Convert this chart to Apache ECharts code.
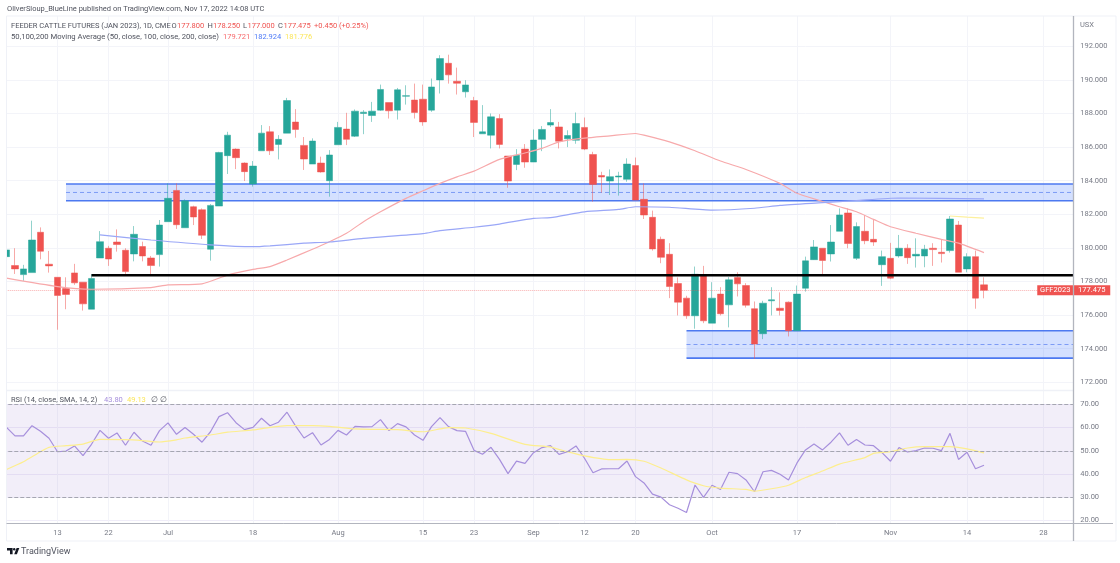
<!DOCTYPE html>
<html>
<head>
<meta charset="utf-8">
<title>Feeder Cattle Futures</title>
<style>
  html, body { margin: 0; padding: 0; background: #fff; }
  #echarts { width: 1120px; height: 563px; }
</style>
<script src="https://cdn.jsdelivr.net/npm/echarts@6/dist/echarts.min.js"></script>
</head>
<body>
<div id="echarts"></div>
<script>
// trading days, the last ones are the empty space right of the last bar
const categories = [
  'Jun 03','Jun 06','Jun 07','Jun 08','Jun 09','Jun 10','Jun 13','Jun 14','Jun 15','Jun 16','Jun 17','Jun 21','Jun 22','Jun 23','Jun 24','Jun 27','Jun 28','Jun 29','Jun 30',
  'Jul 01','Jul 05','Jul 06','Jul 07','Jul 08','Jul 11','Jul 12','Jul 13','Jul 14','Jul 15','Jul 18','Jul 19','Jul 20','Jul 21','Jul 22','Jul 25','Jul 26','Jul 27','Jul 28','Jul 29',
  'Aug 01','Aug 02','Aug 03','Aug 04','Aug 05','Aug 08','Aug 09','Aug 10','Aug 11','Aug 12','Aug 15','Aug 16','Aug 17','Aug 18','Aug 19','Aug 22','Aug 23','Aug 24','Aug 25','Aug 26','Aug 29','Aug 30','Aug 31',
  'Sep 01','Sep 02','Sep 06','Sep 07','Sep 08','Sep 09','Sep 12','Sep 13','Sep 14','Sep 15','Sep 16','Sep 19','Sep 20','Sep 21','Sep 22','Sep 23','Sep 26','Sep 27','Sep 28','Sep 29','Sep 30',
  'Oct 03','Oct 04','Oct 05','Oct 06','Oct 07','Oct 10','Oct 11','Oct 12','Oct 13','Oct 14','Oct 17','Oct 18','Oct 19','Oct 20','Oct 21','Oct 24','Oct 25','Oct 26','Oct 27','Oct 28','Oct 31',
  'Nov 01','Nov 02','Nov 03','Nov 04','Nov 07','Nov 08','Nov 09','Nov 10','Nov 11','Nov 14','Nov 15','Nov 16','Nov 17','Nov 18','Nov 21','Nov 22','Nov 23','Nov 25','Nov 28','Nov 29','Nov 30',
  'Dec 01'
];
const tickLabels = {
  'Jun 13': '13', 'Jun 22': '22', 'Jul 01': 'Jul', 'Jul 18': '18', 'Aug 01': 'Aug', 'Aug 15': '15', 'Aug 23': '23',
  'Sep 01': 'Sep', 'Sep 12': '12', 'Sep 20': '20', 'Oct 03': 'Oct', 'Oct 17': '17', 'Nov 01': 'Nov', 'Nov 14': '14', 'Nov 28': '28'
};

const opens = [
  179.48,178.95,178.41,178.53,180.93,179.03,178.25,177.58,178.51,177.96,
  176.35,179.40,179.98,180.35,179.86,179.64,180.08,179.40,179.60,181.56,
  183.42,181.20,182.45,182.27,179.92,182.49,185.49,185.88,185.05,183.80,
  185.78,186.91,186.16,186.83,187.49,186.10,184.99,185.05,184.00,186.14,
  187.07,186.65,188.00,187.88,188.20,188.65,188.20,189.03,188.80,188.85,
  188.20,190.00,190.99,189.92,189.29,188.77,186.79,186.71,187.70,185.47,
  184.97,185.88,185.11,186.46,187.31,187.20,186.49,186.41,187.17,185.56,
  184.31,183.98,184.22,184.08,184.90,182.89,181.82,180.51,179.62,177.88,
  177.01,175.96,178.32,175.52,177.25,176.61,178.24,177.76,176.38,174.89,
  176.85,176.41,176.77,175.07,177.60,179.30,179.98,179.64,180.99,182.08,
  179.38,180.99,180.51,179.00,179.38,179.52,179.98,179.52,179.52,179.98,
  179.74,179.84,181.36,178.75,179.48,177.80
];
const closes = [
  179.88,178.75,178.75,180.47,179.80,178.93,177.17,177.23,177.92,176.67,
  178.18,180.37,179.34,180.20,178.59,180.81,179.52,178.95,181.36,182.95,
  181.38,182.81,181.84,180.75,182.53,185.68,186.71,185.37,184.54,184.87,
  186.83,185.78,186.46,188.77,187.05,185.29,186.36,184.52,185.53,187.17,
  186.46,188.14,188.08,188.14,189.43,188.16,189.41,189.06,188.06,187.50,
  189.58,191.27,190.30,189.80,189.70,187.47,186.91,187.80,186.16,183.98,
  185.51,185.11,186.42,187.05,187.46,186.35,186.69,187.40,185.88,183.78,
  184.22,184.24,184.28,184.99,182.85,181.96,179.94,179.44,177.70,176.77,
  175.96,178.43,175.66,177.01,176.08,178.10,177.86,176.59,174.28,176.71,
  176.91,176.28,175.07,177.25,179.23,180.06,179.25,180.35,181.96,180.26,
  181.27,180.43,180.35,179.48,178.20,179.98,179.42,179.62,179.92,179.90,
  179.66,181.72,178.55,179.48,177.01,177.475
];
const lows = [
  178.69,178.45,178.04,178.53,179.32,178.53,175.13,176.35,177.80,176.27,
  176.35,179.40,178.93,179.78,178.45,179.20,179.20,178.39,178.89,181.56,
  181.13,181.20,181.36,180.53,179.24,182.49,184.40,184.69,183.98,183.65,
  185.78,185.53,185.27,186.83,186.56,184.64,184.99,184.48,183.05,186.14,
  186.12,186.60,186.77,187.50,188.16,187.70,187.64,188.53,187.70,187.27,
  188.10,189.19,189.78,189.13,188.95,186.60,186.79,185.92,185.92,183.58,
  184.63,184.77,185.11,185.76,187.20,185.92,186.00,186.20,185.82,182.75,
  183.29,183.15,183.11,183.94,182.85,181.72,179.84,179.09,177.01,175.98,
  175.78,175.19,175.52,175.52,175.98,175.27,177.11,176.45,173.39,174.57,
  175.98,175.98,174.73,175.07,177.40,179.28,178.33,179.19,180.99,179.98,
  179.28,180.22,180.12,177.74,178.14,179.42,179.05,178.83,178.85,178.93,
  179.13,179.72,178.55,178.55,176.38,177.00
];
const highs = [
  180.23,179.98,178.99,181.62,181.22,179.82,178.25,178.25,179.05,177.96,
  178.43,181.00,180.12,181.10,179.98,181.30,180.37,179.52,181.66,183.84,
  183.84,182.89,182.51,182.35,182.61,185.72,186.91,185.92,185.09,185.17,
  187.31,187.25,186.71,188.93,188.26,186.60,186.52,185.43,185.82,187.50,
  188.04,188.24,188.20,188.69,189.72,188.65,189.52,189.68,189.78,189.72,
  190.08,191.47,191.50,190.73,189.98,188.99,188.50,188.00,187.96,185.47,
  185.88,186.18,187.05,187.25,188.26,187.50,187.00,188.06,187.76,185.72,
  184.53,184.67,184.53,185.33,185.38,183.84,182.22,180.67,180.28,178.24,
  177.15,178.89,178.93,177.96,177.66,178.26,178.55,177.90,176.81,176.85,
  177.66,177.35,176.81,177.76,179.48,180.47,179.98,181.36,182.35,182.35,
  181.52,181.96,181.66,179.84,180.30,180.77,180.22,180.57,180.18,180.28,
  180.53,181.90,181.60,179.68,179.84,178.25
];

// moving averages, [bar number, value]
const ma50 = [
  [0,178.20],[6,177.70],[10,177.54],[17,177.64],[19,177.80],[23,177.86],[26,178.38],[29,178.72],[31,178.89],
  [33,179.28],[36,179.92],[38,180.37],[40,180.87],[42,181.56],[44,182.15],[47,182.95],[49,183.40],[51,183.84],
  [53,184.23],[55,184.57],[58,185.27],[61,185.65],[63,185.92],[65,186.31],[68,186.53],[71,186.67],[74,186.81],
  [75,186.71],[78,186.31],[81,185.78],[84,185.17],[87,184.67],[91,183.84],[93,183.25],[96,182.76],[98,182.45],
  [100,182.15],[102,181.70],[104,181.26],[107,180.87],[110,180.51],[112,180.28],[115,179.72]
];
const ma100 = [
  [11,180.77],[17,180.47],[24,180.18],[29,180.07],[31,180.12],[35,180.28],[38,180.35],[42,180.57],[49,180.85],
  [51,181.03],[55,181.23],[58,181.42],[62,181.76],[64,181.80],[68,182.15],[72,182.29],[74,182.45],[78,182.42],
  [83,182.25],[88,182.36],[91,182.53],[96,182.69],[100,182.82],[105,182.97],[115,182.92]
];
const ma200 = [[111,181.90],[113,181.83],[115,181.776]];

const rsiValues = [
  60.1,56.4,56.4,60.8,58.4,55.4,49.6,49.9,52.1,47.9,
  52.8,58.8,55.4,57.7,52.4,58.0,54.2,52.4,58.7,62.0,
  57.1,60.0,57.1,53.7,58.2,64.7,66.4,62.1,59.1,60.1,
  64.0,60.8,62.3,66.6,60.7,55.5,57.8,52.5,54.9,58.8,
  56.8,60.5,60.3,60.4,63.4,58.7,61.7,60.3,56.8,54.5,
  60.4,64.3,60.4,58.7,58.4,50.2,48.5,51.5,46.3,40.2,
  45.6,44.6,49.2,51.4,52.2,48.5,49.6,52.1,46.8,40.6,
  42.2,42.3,42.3,45.6,38.9,36.2,31.4,30.1,26.8,25.3,
  23.5,35.3,30.0,35.2,33.4,40.8,40.2,37.5,32.4,41.0,
  41.6,39.9,37.5,44.8,50.4,52.9,50.4,53.7,57.7,52.4,
  54.9,52.5,52.2,49.2,45.5,51.4,49.5,50.1,51.2,51.1,
  50.1,57.5,46.3,49.4,42.3,43.8
];
const rsiMa = [
  [0,42.0],[2,45.3],[4,49.6],[5,51.5],[7,52.2],[9,52.9],[11,54.9],[14,54.8],[16,54.4],[18,53.8],[20,54.7],[21,55.5],
  [24,56.8],[26,58.0],[29,59.0],[31,60.1],[33,60.8],[36,60.8],[38,60.5],[41,59.4],[43,59.2],[46,59.1],[49,58.2],
  [51,59.4],[52,60.0],[54,59.8],[57,57.5],[61,52.8],[64,51.6],[66,49.6],[68,47.8],[71,46.2],[73,46.3],[75,45.5],
  [77,42.6],[80,37.5],[82,35.0],[84,34.0],[87,33.4],[88,32.7],[90,33.7],[92,35.2],[94,38.5],[96,41.3],[98,44.3],
  [101,47.1],[102,48.9],[104,49.6],[106,51.2],[108,51.8],[111,51.8],[113,50.8],[115,49.13]
];

// drawn boxes: first bar, top, middle, bottom
const zones = [[7,183.80,183.30,182.81],[80,175.07,174.25,173.44]];
// drawn black level: first bar, price
const levels = [[10,178.37]];
const lastClose = 177.475;
const symbolName = 'GFF2023';

const UP = '#26a69a', DOWN = '#ef5350', GRIDLINE = '#f3f4f9', AXIS = '#b2b5be', TICK = '#787b86';
const FONT = 'Roboto';
const SIZE = 7.5;

let isTick = (index, value) => value in tickLabels;

function zoneItem(params, api) {
  let c = params.coordSys;
  let right = c.x + c.width;
  let left = api.coord([api.value(0), api.value(1)])[0];
  let top = api.coord([api.value(0), api.value(1)])[1];
  let mid = api.coord([api.value(0), api.value(2)])[1];
  let bottom = api.coord([api.value(0), api.value(3)])[1];
  let edge = { stroke: '#4d79f0', lineWidth: 1.6 };
  return {
    type: 'group',
    children: [
      { type: 'rect', shape: { x: left, y: top, width: right - left, height: bottom - top }, style: { fill: 'rgba(41,98,255,0.2)' } },
      { type: 'line', shape: { x1: left, y1: top, x2: right, y2: top }, style: edge },
      { type: 'line', shape: { x1: left, y1: bottom, x2: right, y2: bottom }, style: edge },
      { type: 'line', shape: { x1: left, y1: mid, x2: right, y2: mid }, style: { stroke: '#7d9bf5', lineWidth: 1, lineDash: [4, 3] } }
    ]
  };
}

function levelItem(params, api) {
  let c = params.coordSys;
  let p = api.coord([api.value(0), api.value(1)]);
  return { type: 'line', shape: { x1: p[0], y1: p[1], x2: c.x + c.width, y2: p[1] }, style: { stroke: '#000', lineWidth: 2.4 } };
}

function lastPriceItem(params, api) {
  let c = params.coordSys;
  let right = c.x + c.width;
  let y = api.coord([0, api.value(1)])[1];
  let box = (x, w, text) => ([
    { type: 'rect', shape: { x: x, y: y - 5, width: w, height: 10 }, style: { fill: DOWN } },
    { type: 'text', x: x + w / 2, y: y, style: { text: text, fill: '#fff', font: SIZE + 'px ' + FONT, align: 'center', verticalAlign: 'middle' } }
  ]);
  return { type: 'group', children: box(right - 36, 36, symbolName).concat(box(right, 37, lastClose.toFixed(3))) };
}

function txt(x, y, text, color, extra) {
  return { type: 'text', z: 101, x: x, y: y, silent: true,
    style: Object.assign({ text: text, fill: color, font: SIZE + 'px ' + FONT, verticalAlign: 'middle' }, extra) };
}
function rule(x1, y1, x2, y2, color, width) {
  return { type: 'line', z: 100, silent: true, shape: { x1, y1, x2, y2 }, style: { stroke: color, lineWidth: width } };
}

let Charts = echarts.init(document.querySelector('#echarts'));
Charts.setOption({
  animation: false,
  backgroundColor: '#fff',
  grid: [
    { left: 2.25, width: 1071, top: 16, height: 507 },
    { left: 2.25, width: 1071, top: 46.3, height: 336 },
    { left: 2.25, width: 1071, top: 404.3, height: 116.3 }
  ],
  xAxis: [
    {
      gridIndex: 0, type: 'category', data: categories,
      axisLine: { show: false }, axisTick: { show: false },
      axisLabel: {
        interval: isTick, margin: 6, color: TICK, fontFamily: FONT, fontSize: SIZE,
        formatter: v => tickLabels[v],
        hideOverlap: false
      },
      splitLine: { show: true, interval: isTick, alignWithLabel: true, lineStyle: { color: GRIDLINE, width: 1 } }
    },
    { gridIndex: 1, type: 'category', data: categories, show: false },
    { gridIndex: 2, type: 'category', data: categories, show: false }
  ],
  yAxis: [
    { gridIndex: 0, type: 'value', min: 0, max: 1, show: false },
    {
      gridIndex: 1, type: 'value', position: 'right', min: 172, max: 192, interval: 2,
      axisLine: { show: false }, axisTick: { show: false },
      axisLabel: { margin: 7, color: TICK, fontFamily: FONT, fontSize: SIZE, formatter: v => v.toFixed(3) },
      splitLine: { lineStyle: { color: GRIDLINE, width: 1 } }
    },
    {
      gridIndex: 2, type: 'value', position: 'right', min: 20, max: 70, interval: 10,
      axisLine: { show: false }, axisTick: { show: false },
      axisLabel: { margin: 7, color: TICK, fontFamily: FONT, fontSize: SIZE, formatter: v => v.toFixed(2) },
      splitLine: { lineStyle: { color: '#f0edf9', width: 1 } }
    }
  ],
  series: [
    { type: 'custom', name: 'zones', xAxisIndex: 1, yAxisIndex: 1, z: 1, silent: true, data: zones,
      encode: { x: 0, y: [1, 2, 3] }, renderItem: zoneItem },
    {
      type: 'candlestick', name: 'GFF2023', xAxisIndex: 1, yAxisIndex: 1, z: 3, barWidth: 7,
      data: opens.map((o, i) => [o, closes[i], lows[i], highs[i]]),
      itemStyle: { color: UP, color0: DOWN, borderColor: 'rgba(38,166,154,0.5)', borderColor0: 'rgba(239,83,80,0.5)', borderWidth: 1 },
      markLine: {
        silent: true, symbol: 'none', animation: false, label: { show: false },
        lineStyle: { type: 'dotted', color: 'rgba(239,83,80,0.45)', width: 1 },
        data: [{ yAxis: lastClose }]
      }
    },
    { type: 'line', name: 'MA 50', xAxisIndex: 1, yAxisIndex: 1, z: 4, data: ma50, showSymbol: false, smooth: 0.2,
      lineStyle: { color: '#f7a9ab', width: 1.2 } },
    { type: 'line', name: 'MA 100', xAxisIndex: 1, yAxisIndex: 1, z: 4, data: ma100, showSymbol: false, smooth: 0.2,
      lineStyle: { color: '#9aa7f7', width: 1.2 } },
    { type: 'line', name: 'MA 200', xAxisIndex: 1, yAxisIndex: 1, z: 4, data: ma200, showSymbol: false,
      lineStyle: { color: '#fdf09c', width: 1.2 } },
    { type: 'custom', name: 'level', xAxisIndex: 1, yAxisIndex: 1, z: 5, silent: true, data: levels,
      encode: { x: 0, y: 1 }, renderItem: levelItem },
    { type: 'custom', name: 'last', xAxisIndex: 1, yAxisIndex: 1, z: 6, silent: true, clip: false, data: [[0, lastClose]],
      encode: { x: 0, y: 1 }, renderItem: lastPriceItem },
    {
      type: 'line', name: 'RSI', xAxisIndex: 2, yAxisIndex: 2, z: 4, data: rsiValues, showSymbol: false,
      lineStyle: { color: '#a68fdc', width: 1.2 },
      markArea: { silent: true, animation: false, itemStyle: { color: 'rgba(126,87,194,0.1)' }, data: [[{ yAxis: 70 }, { yAxis: 30 }]] },
      markLine: {
        silent: true, symbol: 'none', animation: false, label: { show: false },
        lineStyle: { type: 'dashed', color: '#a5a6b1', width: 1 },
        data: [{ yAxis: 70 }, { yAxis: 50 }, { yAxis: 30 }]
      }
    },
    { type: 'line', name: 'RSI MA', xAxisIndex: 2, yAxisIndex: 2, z: 4, data: rsiMa, showSymbol: false, smooth: 0.2,
      lineStyle: { color: '#fdee8e', width: 1.2 } }
  ],
  graphic: [
    // hides the half bar column left of the pane
    { type: 'rect', z: 99, silent: true, shape: { x: 0, y: 10, width: 6.5, height: 540 }, style: { fill: '#fff' } },
    rule(6.5, 16, 1116, 16, '#eff1f7', 1),
    rule(6.5, 16, 6.5, 541, '#eff1f7', 1),
    rule(1116, 16, 1116, 541, '#eff1f7', 1),
    rule(6.5, 541, 1116, 541, '#eff1f7', 1),
    rule(6.5, 390.5, 1073, 390.5, '#eff1f7', 1.5),
    rule(6.5, 523.5, 1113, 523.5, AXIS, 1),
    rule(1073.5, 16, 1073.5, 541, AXIS, 1.3),

    txt(7, 9, 'OliverSloup_BlueLine published on TradingView.com, Nov 17, 2022 14:08 UTC', '#50535e'),
    txt(11, 26, 'FEEDER CATTLE FUTURES (JAN 2023), 1D, CME', '#50535e'),
    txt(171.5, 26, 'O', '#50535e'), txt(177, 26, '177.800', DOWN),
    txt(207.5, 26, 'H', '#50535e'), txt(213, 26, '178.250', DOWN),
    txt(243, 26, 'L', '#50535e'), txt(247.5, 26, '177.000', DOWN),
    txt(278, 26, 'C', '#50535e'), txt(283.5, 26, '177.475', DOWN),
    txt(314, 26, '+0.450 (+0.25%)', DOWN),
    txt(11, 37, '50,100,200 Moving Average (50, close, 100, close, 200, close)', '#50535e', { font: '7.7px ' + FONT }),
    txt(223, 37, '179.721', '#f7696c'), txt(254, 37, '182.924', '#4f7bf7'), txt(285, 37, '181.776', '#fbe65a'),
    txt(1080, 25, 'USX', TICK),
    txt(11, 400, 'RSI (14, close, SMA, 14, 2)', '#50535e'),
    txt(104, 400, '43.80', '#a68fdc'), txt(127, 400, '49.13', '#fbe65a'),
    txt(151, 400, '∅', '#50535e'), txt(160, 400, '∅', '#50535e'),
    txt(21, 552, 'TradingView', '#50535e', { font: '9px ' + FONT }),

    // logo
    { type: 'polygon', z: 101, silent: true, shape: { points: [[7,548],[12.6,548],[12.6,554.2],[10,554.2],[10,550.6],[7,550.6]] }, style: { fill: '#131722' } },
    { type: 'polygon', z: 101, silent: true, shape: { points: [[14.2,554.2],[16.6,548],[19.3,548],[16.9,554.2]] }, style: { fill: '#131722' } },
    { type: 'circle', z: 101, silent: true, shape: { cx: 14.2, cy: 549.2, r: 1.2 }, style: { fill: '#131722' } }
  ]
});
</script>
</body>
</html>
